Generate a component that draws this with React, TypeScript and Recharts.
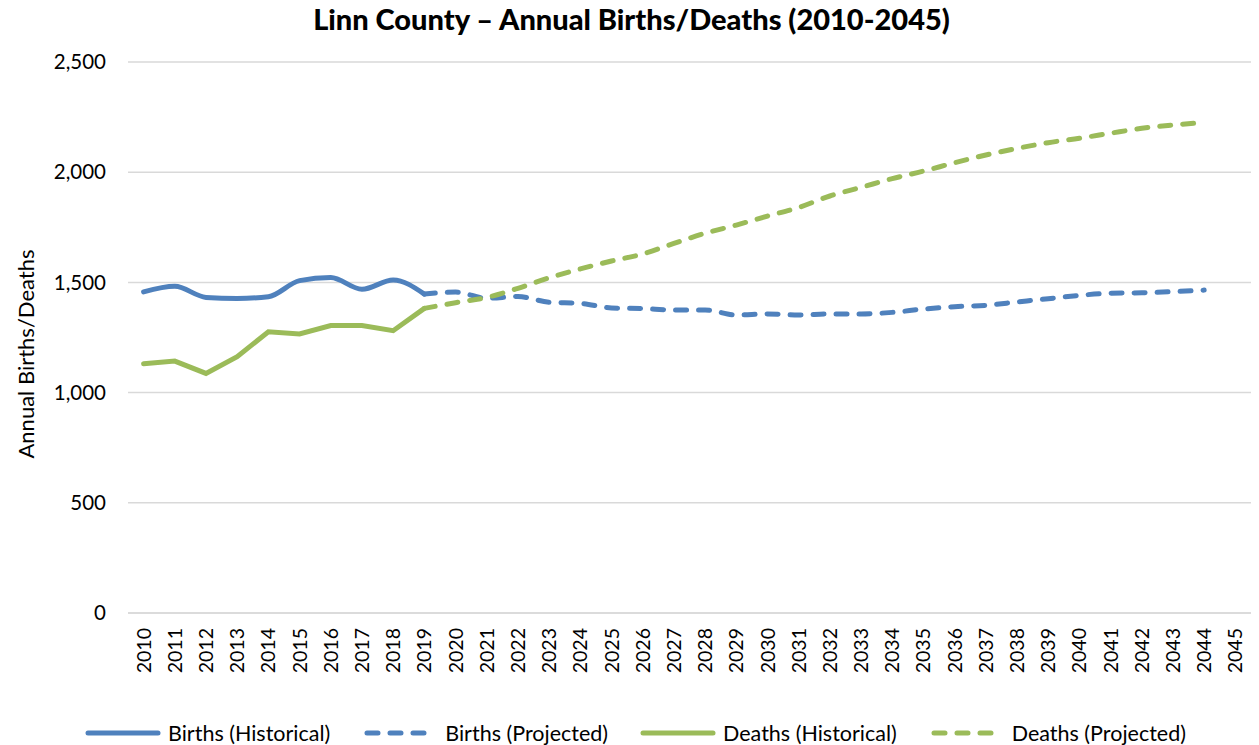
import React from "react";
import { LineChart, Line, XAxis, YAxis, CartesianGrid } from "recharts";

const years: number[] = [
  2010, 2011, 2012, 2013, 2014, 2015, 2016, 2017, 2018, 2019, 2020, 2021,
  2022, 2023, 2024, 2025, 2026, 2027, 2028, 2029, 2030, 2031, 2032, 2033,
  2034, 2035, 2036, 2037, 2038, 2039, 2040, 2041, 2042, 2043, 2044, 2045,
];

// 2010-2019
const birthsHistorical: number[] = [1457, 1482, 1432, 1427, 1435, 1508, 1522, 1469, 1511, 1447];
const deathsHistorical: number[] = [1131, 1143, 1087, 1163, 1276, 1266, 1304, 1304, 1281, 1382];

// 2019-2044
const projectedStartYear = 2019;
const birthsProjected: number[] = [
  1447, 1456, 1428, 1436, 1410, 1405, 1384, 1381, 1375, 1375, 1352, 1357, 1352,
  1357, 1357, 1364, 1379, 1390, 1396, 1411, 1426, 1441, 1451, 1453, 1458, 1465,
];
const deathsProjected: number[] = [
  1382, 1408, 1432, 1473, 1521, 1561, 1597, 1629, 1677, 1723, 1760, 1801, 1840,
  1892, 1931, 1971, 2005, 2043, 2078, 2108, 2134, 2154, 2177, 2199, 2214, 2226,
];

const yTicks: number[] = [0, 500, 1000, 1500, 2000, 2500];

const seriesNames = {
  birthsHist: "Births (Historical)",
  birthsProj: "Births (Projected)",
  deathsHist: "Deaths (Historical)",
  deathsProj: "Deaths (Projected)",
};

const BLUE = "#4F81BD";
const GREEN = "#9BBB59";
const FONT = "Lato, 'Open Sans', sans-serif";
const DASH = "11 12";
const LW = 5;

const data = years.map((year, i) => {
  const pi = year - projectedStartYear;
  return {
    year: String(year),
    birthsHist: i < birthsHistorical.length ? birthsHistorical[i] : null,
    deathsHist: i < deathsHistorical.length ? deathsHistorical[i] : null,
    birthsProj: pi >= 0 && pi < birthsProjected.length ? birthsProjected[pi] : null,
    deathsProj: pi >= 0 && pi < deathsProjected.length ? deathsProjected[pi] : null,
  };
});

const XTick = (props: any) => {
  const { x, y, payload } = props;
  return (
    <text
      x={x}
      y={y}
      transform={`rotate(-90, ${x}, ${y})`}
      textAnchor="end"
      dy="0.36em"
      fontSize={19.5}
      fontFamily={FONT}
      fill="#000"
    >
      {payload.value}
    </text>
  );
};

const legendItems = [
  { name: seriesNames.birthsHist, color: BLUE, dashed: false },
  { name: seriesNames.birthsProj, color: BLUE, dashed: true },
  { name: seriesNames.deathsHist, color: GREEN, dashed: false },
  { name: seriesNames.deathsProj, color: GREEN, dashed: true },
];

export default function App() {
  return (
    <div style={{ position: "absolute", left: 0, top: 0, width: 1259, height: 745, background: "#fff" }}>
      <div
        style={{
          position: "absolute",
          left: 0,
          top: 0,
          width: 1259,
          textAlign: "center",
          fontFamily: FONT,
          fontWeight: 900,
          fontSize: 29,
          lineHeight: "38px",
          color: "#000",
          paddingLeft: 4,
          boxSizing: "border-box",
        }}
      >
        Linn County – Annual Births/Deaths (2010-2045)
      </div>
      <div
        style={{
          position: "absolute",
          left: 25,
          top: 354,
          transform: "translate(-50%, -50%) rotate(-90deg)",
          whiteSpace: "nowrap",
          fontFamily: FONT,
          fontSize: 22,
          color: "#000",
        }}
      >
        Annual Births/Deaths
      </div>
      <LineChart
        width={1259}
        height={745}
        data={data}
        margin={{ top: 62, right: 8, bottom: 72, left: 48 }}
      >
        <CartesianGrid vertical={false} stroke="#D9D9D9" strokeWidth={1.5} />
        <XAxis
          dataKey="year"
          interval={0}
          tick={<XTick />}
          tickLine={false}
          axisLine={{ stroke: "#D9D9D9", strokeWidth: 1.5 }}
          tickSize={0}
          tickMargin={15}
          height={60}
          padding={{ left: 15.6, right: 15.6 }}
        />
        <YAxis
          domain={[0, 2500]}
          ticks={yTicks}
          width={80}
          axisLine={false}
          tickLine={false}
          tickSize={0}
          tickMargin={22}
          tick={{ fontSize: 20.5, fontFamily: FONT, fill: "#000" }}
          tickFormatter={(v: number) => v.toLocaleString("en-US")}
        />
        <Line
          dataKey="birthsHist"
          name={seriesNames.birthsHist}
          type="monotone"
          stroke={BLUE}
          strokeWidth={LW}
          strokeLinecap="round"
          dot={false}
          isAnimationActive={false}
        />
        <Line
          dataKey="birthsProj"
          name={seriesNames.birthsProj}
          type="monotone"
          stroke={BLUE}
          strokeWidth={LW}
          strokeDasharray={DASH}
          strokeLinecap="round"
          dot={false}
          isAnimationActive={false}
        />
        <Line
          dataKey="deathsHist"
          name={seriesNames.deathsHist}
          type="linear"
          stroke={GREEN}
          strokeWidth={LW}
          strokeLinecap="round"
          dot={false}
          isAnimationActive={false}
        />
        <Line
          dataKey="deathsProj"
          name={seriesNames.deathsProj}
          type="monotone"
          stroke={GREEN}
          strokeWidth={LW}
          strokeDasharray={DASH}
          strokeLinecap="round"
          dot={false}
          isAnimationActive={false}
        />
      </LineChart>
      <div
        style={{
          position: "absolute",
          left: 0,
          top: 718,
          width: 1259,
          height: 30,
          display: "flex",
          justifyContent: "center",
          alignItems: "center",
          fontFamily: FONT,
          fontSize: 21.5,
          color: "#000",
          paddingLeft: 12,
          boxSizing: "border-box",
        }}
      >
        {legendItems.map((it, i) => (
          <div key={it.name} style={{ display: "flex", alignItems: "center", marginLeft: i === 0 ? 0 : 32 }}>
            <svg width={76} height={10} style={{ marginRight: 7 }}>
              <line
                x1={it.dashed ? 5 : 3}
                y1={5}
                x2={it.dashed ? 62 : 73}
                y2={5}
                stroke={it.color}
                strokeWidth={LW}
                strokeLinecap="round"
                strokeDasharray={it.dashed ? DASH : undefined}
              />
            </svg>
            <span>{it.name}</span>
          </div>
        ))}
      </div>
    </div>
  );
}
